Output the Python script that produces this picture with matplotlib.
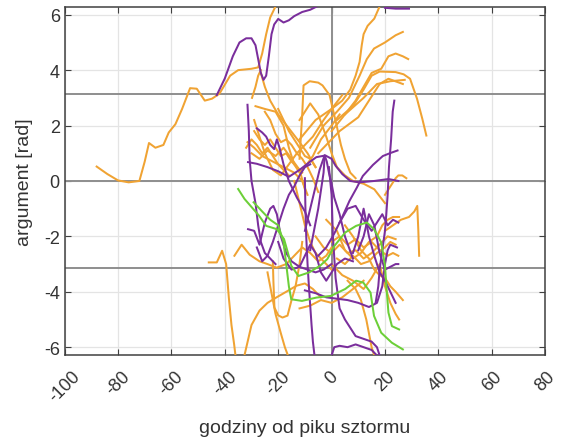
import numpy as np
import matplotlib
matplotlib.use("Agg")
import matplotlib.pyplot as plt

plt.rcParams['font.family'] = ['Liberation Sans', 'DejaVu Sans']

ORANGE = '#F0A333'
PURPLE = '#7A2E9C'
GREEN = '#6CCF38'

x_ticks = [-100, -80, -60, -40, -20, 0, 20, 40, 60, 80]
y_ticks = [-6, -4, -2, 0, 2, 4, 6]

# ---- orange curves (hours, argument) ----
orange_curves = [
    ([-88, -84, -80, -76, -72, -70, -68.4, -66, -63, -61, -58.5, -56, -53, -50.5, -47.5, -44.8, -42, -38, -35, -30, -27.5, -26, -24.5, -23, -21],
     [0.52, 0.25, 0.02, -0.05, 0.0, 0.7, 1.37, 1.2, 1.3, 1.75, 2.05, 2.6, 3.35, 3.33, 2.9, 2.97, 3.15, 3.8, 4.0, 4.05, 4.1, 4.6, 5.3, 5.9, 6.3]),
    ([-29.8, -28.5, -27.5, -26.5],
     [3.0, 3.4, 3.8, 4.0]),
    ([-26.5, -25, -23, -20, -16, -12, -9, -6],
     [3.9, 3.4, 2.9, 2.4, 1.9, 1.4, 1.0, 0.5]),
    ([-12, -6, 0, 4, 7, 9, 10.5, 11.3, 12, 13.5, 16, 18],
     [1.5, 2.2, 2.6, 2.9, 3.3, 3.8, 4.3, 4.9, 5.3, 5.6, 5.86, 6.3]),
    ([-8, -3, 2, 6.5, 10.5, 13.2, 15.9, 20, 24, 26.7],
     [1.2, 2.0, 2.5, 3.0, 3.8, 4.4, 4.78, 5.0, 5.26, 5.38]),
    ([0, 5, 9, 12, 15, 18.6, 21.3, 24, 26.7, 28.7],
     [1.8, 2.4, 2.9, 3.4, 3.9, 4.05, 4.5, 4.6, 4.5, 4.4]),
    ([2, 8, 12, 15, 18, 24, 27, 29.4, 32, 34, 35.5],
     [2.2, 2.7, 3.3, 3.8, 3.95, 3.93, 3.85, 3.69, 2.97, 2.24, 1.64]),
    ([-5, 3, 10, 14, 18, 21.3, 26.7],
     [1.0, 1.8, 2.3, 2.9, 3.5, 3.69, 3.5]),
    ([5, 12, 17, 22, 27.4],
     [2.4, 3.0, 3.5, 3.6, 3.65]),
    ([-12, -11.5, -11, -10.5, -8.2, -5, -3.4, -0.75, 1.9, 3.5, 5, 7, 9],
     [0.8, 1.6, 2.4, 3.45, 3.6, 3.55, 3.45, 3.1, 2.0, 1.3, 0.8, 0.3, 0.1]),
    ([-31.5, -29, -26, -22, -18, -14, -11, -9],
     [1.4, 1.2, 0.9, 0.7, 0.5, 0.3, 0.0, -0.5]),
    ([-30, -27, -24, -21, -18, -15, -12, -10],
     [1.0, 0.8, 1.1, 0.9, 1.2, 0.8, 0.4, -0.3]),
    ([-28.5, -25, -21, -18, -16, -14, -12, -10, -7, -4, 0, 3],
     [2.7, 2.6, 2.5, 2.0, 1.2, 0.6, 0.3, 0.5, 0.9, 1.5, 2.0, 2.4]),
    ([-29, -27, -25, -22, -19, -16, -13, -10, -7, -3, 0, 4],
     [2.2, 1.6, 1.0, 0.4, 0.2, 0.6, 1.0, 1.3, 1.6, 2.2, 2.6, 3.1]),
    ([-20, -18, -16, -14, -12, -10, -8, -6],
     [2.6, 2.2, 1.8, 1.5, 1.2, 0.9, 0.8, 0.5]),
    ([-32, -30, -28, -26, -24, -22, -20, -18, -16],
     [1.2, 1.5, 1.3, 1.0, 1.2, 0.9, 0.6, 0.4, 0.2]),
    ([-29, -27, -25, -23, -21, -19, -17, -15, -13, -11],
     [1.8, 1.5, 1.3, 1.5, 1.2, 0.9, 1.0, 0.7, 0.5, 0.3]),
    ([-25, -23, -21, -19, -17, -15, -13, -11, -9, -7, -5],
     [2.5, 2.2, 1.7, 1.4, 1.5, 1.3, 1.0, 0.8, 0.5, 0.1, -0.4]),
    ([-12, -8, -5, -2, 0, 2, 5, 8, 12, 16, 20],
     [2.2, 2.8, 2.4, 1.6, 1.0, 0.5, 0.2, 0.0, -0.1, -0.3, -0.8]),
    ([-46, -43, -41, -39.5, -38.5, -37.5, -36.5, -36],
     [-2.94, -2.94, -2.52, -3.0, -4.2, -5.2, -5.9, -6.3]),
    ([-36.4, -33.7, -30.7, -27, -24, -20.6, -17, -14, -11, -8, -5, -2, 0],
     [-2.7, -2.3, -2.66, -2.9, -3.0, -3.13, -3.0, -2.7, -2.4, -2.6, -2.9, -2.7, -2.4]),
    ([-32.6, -30, -27, -24, -20.6, -17, -13.1, -10, -7, -4],
     [-6.28, -5.2, -4.68, -4.4, -4.2, -4.0, -3.78, -3.7, -3.9, -4.2]),
    ([-22, -21.8, -21.4, -20, -18.4, -16.5, -15, -13.5, -12, -11],
     [-2.9, -3.6, -4.57, -4.85, -4.93, -4.86, -4.3, -3.8, -3.0, -2.2]),
    ([-24, -23, -21, -19, -17.5, -16.5],
     [-3.3, -3.8, -4.8, -5.5, -6.0, -6.26]),
    ([0, 3, 6, 9, 12, 15, 18, 21, 23, 25],
     [-2.2, -2.0, -2.3, -2.1, -2.4, -2.2, -2.5, -2.7, -2.6, -2.7]),
    ([-2, 2, 5, 8, 11, 14, 17, 19, 21, 23, 25.3],
     [-1.4, -1.8, -2.5, -2.8, -2.6, -2.2, -2.0, -1.6, -1.4, -1.3, -1.3]),
    ([5, 8, 11, 14, 16, 18, 20, 22, 24, 26.7],
     [-1.6, -2.0, -2.5, -2.8, -3.2, -3.4, -3.5, -3.8, -4.0, -4.3]),
    ([0, 4, 8, 12, 15, 18, 20, 22, 24, 25.3],
     [-3.0, -3.4, -3.6, -3.9, -3.5, -3.0, -3.8, -4.4, -4.8, -5.0]),
    ([-6, -3, 0, 3, 6, 9, 12, 15, 18, 21, 24],
     [-2.0, -2.4, -2.6, -2.3, -2.6, -2.5, -2.8, -2.6, -2.3, -2.0, -2.1]),
    ([2, 5, 8, 11, 14, 17, 20, 22, 24],
     [-2.8, -3.0, -2.7, -3.0, -2.9, -2.6, -2.4, -2.2, -2.3]),
    ([20, 23, 26, 29, 31, 32.1, 32.5, 32.8],
     [-1.8, -1.6, -1.4, -1.3, -1.1, -0.9, -1.8, -2.7]),
    ([20, 22, 24, 25, 26.5, 28],
     [-0.5, -0.2, 0.1, 0.2, 0.2, 0.1]),
    ([-14, -12, -10, -8, -6, -4, -2, 0],
     [0.0, -0.8, -1.6, -2.2, -2.6, -2.8, -3.0, -3.2]),
    ([6, 9, 11, 13, 14, 15, 16],
     [-3.6, -3.9, -4.3, -5.0, -5.5, -6.0, -6.3]),
    ([-12, -8, -4, 0, 4, 8, 12],
     [-4.6, -4.5, -4.3, -4.4, -4.2, -3.9, -3.6]),
]

# ---- purple curves ----
purple_curves = [
    ([-43, -40, -37, -34.5, -32, -30, -28.5, -27.5, -26.5, -25.5, -24.5, -23.5, -22.5, -21.5, -20, -18, -16, -14, -11, -8, -5.5],
     [3.1, 3.7, 4.5, 5.0, 5.15, 5.15, 4.9, 4.4, 3.9, 3.65, 3.8, 4.5, 5.3, 5.65, 5.85, 5.72, 5.8, 5.95, 6.1, 6.18, 6.3]),
    ([20, 24, 29],
     [6.25, 6.22, 6.22]),
    ([-31.5, -31.0, -30.7, -30.0, -28.5, -27.5, -26.5, -25, -23, -21],
     [2.75, 1.8, 0.8, 0.0, -0.8, -1.6, -2.2, -2.6, -2.8, -3.0]),
    ([-28, -26, -24.5, -23, -21.5, -20.5, -19.5, -18, -16, -13, -10, -8],
     [1.9, 1.75, 1.6, 1.3, 1.15, 1.5, 1.2, 0.6, 0.0, -0.6, -1.1, -1.6]),
    ([-31.3, -28, -24, -20, -16, -12, -8, -5.7, -2.3, 0, 1.5, 4, 7, 10.5, 16, 21.3, 25],
     [0.68, 0.62, 0.5, 0.35, 0.15, 0.4, 0.7, 0.86, 0.92, 0.8, 0.55, 0.25, 0.0, -0.05, 0.0, 0.07, 0.0]),
    ([23.5, 22.9, 22.3, 21.5, 21.0, 20.5, 20, 19, 18, 17.5, 16.5],
     [2.9, 2.5, 1.5, 0.5, -0.5, -1.2, -1.8, -2.5, -3.2, -3.8, -4.4]),
    ([24.7, 21.8, 19.2, 15.5, 11.7, 9.4, 6.7, 4, 1, -2, -5],
     [1.1, 1.0, 0.9, 0.58, 0.18, -0.25, -0.72, -1.3, -1.9, -2.4, -2.7]),
    ([-10, -7, -4.5, -2.6, -1.8, -1, 0, 1, 3, 5, 8],
     [-1.8, -0.6, 0.4, 0.93, 0.7, 0.3, -0.1, -0.6, -1.2, -2.0, -2.8]),
    ([-8, -5, -3, -2.6],
     [-2.5, -1.0, 0.3, 0.9]),
    ([-10, -9.8, -9.5, -9, -8.5, -8, -7.5, -7, -6.4],
     [0.1, -1.0, -2.0, -3.0, -3.8, -4.5, -5.2, -5.8, -6.3]),
    ([-1, 0, 0.5, 1.5, 3, 5, 7, 9, 12, 15, 17, 18],
     [0.5, -0.5, -2, -3.5, -4.6, -5.0, -5.3, -5.6, -5.7, -5.8, -6.0, -6.3]),
    ([0, 1, 3, 6, 9, 12, 15, 17],
     [-6.3, -6.0, -5.95, -6.0, -5.9, -6.0, -6.1, -6.3]),
    ([-10, -6, -2, 2, 6, 10, 14, 17, 19, 20, 21, 22, 24.5],
     [-3.95, -4.05, -4.2, -4.25, -4.3, -4.4, -4.55, -4.4, -3.8, -3.0, -2.5, -2.3, -2.4]),
    ([-31.3, -29, -27, -25, -23, -21.8, -20.5, -19, -17, -15, -12, -9, -6, -3, 0],
     [-1.74, -1.8, -2.3, -1.5, -1.0, -0.9, -1.2, -2.0, -2.6, -2.9, -3.1, -3.2, -3.3, -3.2, -3.0]),
    ([-28, -26, -24, -22, -20, -18, -16, -14, -12, -10, -8],
     [-2.4, -2.9, -2.7, -2.2, -1.6, -1.0, -0.5, -0.2, 0.2, 0.5, 0.6]),
    ([3, 6, 9, 12, 15, 17, 19, 21, 23, 25],
     [-1.5, -1.0, -0.9, -1.4, -1.8, -1.5, -1.2, -1.6, -1.4, -1.5]),
    ([10, 12, 14, 16, 18, 20, 22, 24, 25],
     [-2.5, -2.0, -1.2, -1.6, -2.6, -3.2, -3.1, -3.0, -3.0]),
    ([-20, -18, -15, -12, -10, -8, -6, -4, -2, 0, 2, 5, 8],
     [-2.2, -2.8, -3.2, -3.1, -2.7, -2.3, -2.6, -3.3, -3.6, -3.3, -3.0, -2.8, -2.9]),
    ([8, 10, 12, 14, 16, 18, 20, 22, 24],
     [-2.6, -2.0, -1.0, -2.0, -2.7, -3.3, -3.6, -4.0, -4.4]),
]

# ---- green curves ----
green_curves = [
    ([-35, -32.6, -29.9, -27.2, -24.5, -20.5, -17.8, -16.4, -15.1, -12.4, -8.4, -4.3, -1.6, 1.1, 5.1, 9.2, 13.2, 15.9, 18.6, 20, 20.6, 21.3, 22.6, 25.3],
     [-0.29, -0.65, -0.95, -1.25, -1.62, -1.74, -2.1, -2.58, -3.06, -3.43, -3.3, -3.06, -2.82, -2.34, -1.86, -1.62, -1.5, -1.74, -2.22, -3.06, -3.9, -4.75, -5.24, -5.36]),
    ([-29.2, -26, -23, -20, -18, -17, -16, -15.1, -11.1, -5.7, -0.3, 5.1, 9.2, 11.9, 14.6, 15.9, 18.6, 22.6, 26.7],
     [-0.77, -1.1, -1.4, -1.6, -2.2, -3.0, -3.8, -4.27, -4.33, -4.21, -4.15, -3.9, -3.6, -3.67, -4.03, -4.87, -5.48, -5.84, -6.08]),
]

fig = plt.figure(figsize=(5.62, 4.39), dpi=100)
ax = fig.add_axes([0.115, 0.189, 0.855, 0.793])

TXT = '#333333'
ax.set_xlim(-100, 80)
ax.set_ylim(-2 * np.pi, 2 * np.pi)
ax.set_xticks(x_ticks)
ax.set_yticks(y_ticks)
ax.grid(True, color='#e4e4e4', linewidth=0.9)
ax.set_axisbelow(True)
for v in [0, np.pi, -np.pi]:
    ax.axhline(v, color='#8e8e8e', linewidth=1.4, zorder=1)
ax.axvline(0, color='#8e8e8e', linewidth=1.4, zorder=1)

LW = 1.45
for hx, ay in orange_curves:
    ax.plot(hx, ay, color=ORANGE, linewidth=LW, zorder=3)
for hx, ay in purple_curves:
    ax.plot(hx, ay, color=PURPLE, linewidth=LW, zorder=3)
for hx, ay in green_curves:
    ax.plot(hx, ay, color=GREEN, linewidth=LW, zorder=4)

for s in ax.spines.values():
    s.set_color('#404040')
    s.set_linewidth(1.1)
ax.tick_params(direction='in', length=4, width=0.8, colors='#404040',
               top=True, right=True, labelsize=13, labelcolor=TXT)
ax.tick_params(axis='x', pad=9)
ax.set_xticklabels([str(t) for t in x_ticks], rotation=45, ha='center')
ax.set_yticklabels([str(t) for t in y_ticks])
ax.set_xlabel('godziny od piku sztormu', fontsize=14, color=TXT, labelpad=10)
ax.set_ylabel('argument [rad]', fontsize=14, color=TXT, labelpad=8)

fig.savefig('out.png', dpi=100)
